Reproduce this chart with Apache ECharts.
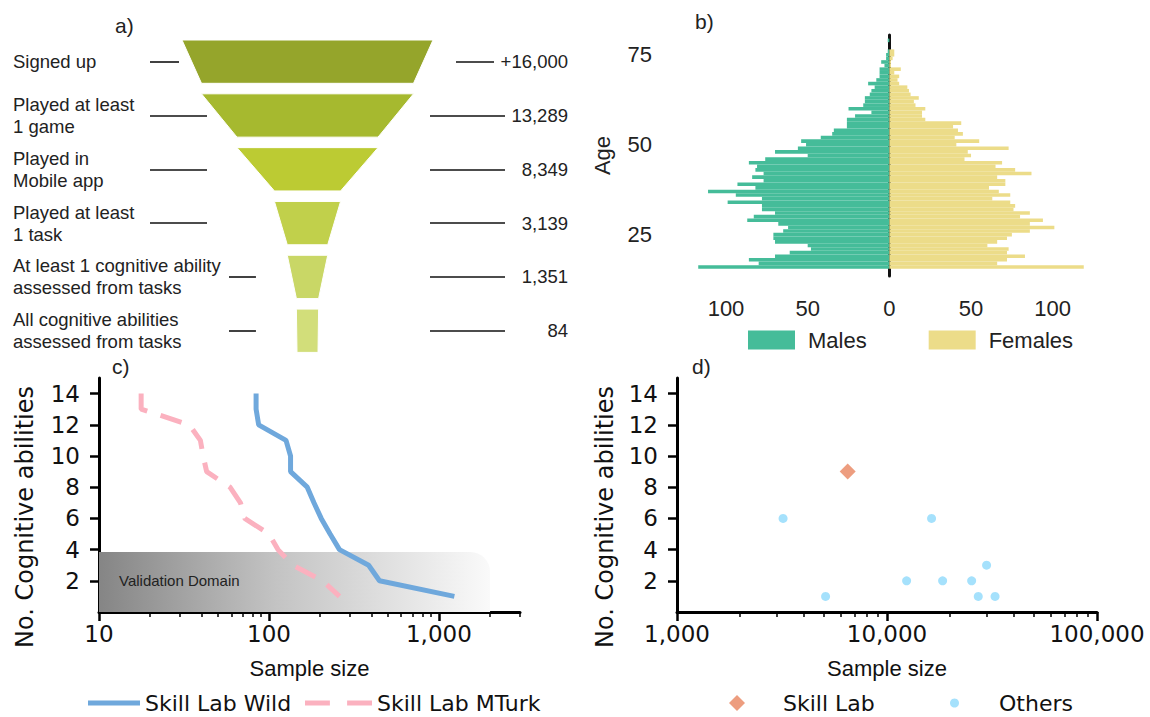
<!DOCTYPE html>
<html>
<head>
<meta charset="utf-8">
<script src="https://cdn.jsdelivr.net/npm/echarts@6/dist/echarts.min.js"></script>
<style>
  html, body { margin: 0; background: #fff; }
  #main { width: 1150px; height: 717px; }
</style>
</head>
<body>
<div id="main"></div>
<script>
// a) participation funnel
const stages = [
  'Signed up',
  'Played at least\n1 game',
  'Played in\nMobile app',
  'Played at least\n1 task',
  'At least 1 cognitive ability\nassessed from tasks',
  'All cognitive abilities\nassessed from tasks'
]
const stageCounts = [16000, 13289, 8349, 3139, 1351, 84]

// b) age pyramid, ages 14..80
const ages = Array.from({ length: 67 }, (_, i) => String(14 + i))
const males = [0, 0, 117, 80, 86, 70, 61, 48, 50, 70, 71, 71, 65, 62, 68, 87, 83, 70, 78, 78,
  99, 78, 94, 111, 82, 93, 77, 84, 77, 82, 81, 86, 76, 50, 70, 56, 51, 54, 42, 35,
  34, 26, 26, 26, 21, 11, 25, 16, 15, 15, 12, 11, 9, 13, 8, 6, 6, 6, 3, 5,
  2, 2, 1, 0, 0, 1, 0]
const females = [0, 0, 119, 66, 72, 83, 72, 73, 60, 66, 72, 75, 86, 101, 86, 94, 80, 86, 76, 77,
  74, 63, 74, 67, 61, 71, 71, 66, 87, 77, 65, 69, 46, 50, 48, 73, 41, 55, 40, 45,
  42, 39, 44, 22, 20, 20, 22, 16, 15, 18, 13, 12, 11, 6, 5, 6, 3, 7, 1, 1,
  2, 3, 3, 0, 0, 0, 0]

// c) sample size needed per number of abilities
const wildSizes = [[84, 14], [84, 13], [87, 12], [126, 11], [134, 10], [134, 9], [168, 8],
  [184, 7], [203, 6], [229, 5], [260, 4], [386, 3], [447, 2], [1233, 1]]
const mturkSizes = [[17.7, 14], [17.7, 13], [34, 12], [39.5, 11], [41, 10], [43, 9], [59, 8],
  [68, 7], [72, 6], [100, 5], [113, 4], [138, 3], [207, 2], [260, 1]]
const validationDomain = [10, 0, 2000, 3.85]

// d) other studies
const skillLabStudy = [[6500, 9]]
const otherStudies = [[3200, 6], [5100, 1], [12400, 2], [16300, 6], [18400, 2],
  [25300, 2], [29800, 3], [27200, 1], [32700, 1]]

const abilityTicks = [2, 4, 6, 8, 10, 12, 14]
const minorC = [20, 30, 40, 50, 60, 70, 80, 90, 200, 300, 400, 500, 600, 700, 800, 900, 2000, 3000]
const minorD = [2000, 3000, 4000, 5000, 6000, 7000, 8000, 9000,
  20000, 30000, 40000, 50000, 60000, 70000, 80000, 90000]

const funnelColors = ['#95a52b', '#a6b92f', '#bccb33', '#c1d04b', '#c9d766', '#d2de7a']
const sans = '"Liberation Sans", Arial, sans-serif'
const dejavu = '"DejaVu Sans", sans-serif'

const chart = echarts.init(document.getElementById('main'), null, { renderer: 'svg' })

// 漏斗两侧的引线 (axis ticks used as leader lines)
const leaderAxis = (position, offset, len, shown, label) => ({
  type: 'category', gridIndex: 0, inverse: true, position, offset,
  data: stages,
  axisLine: { show: false, onZero: false },
  axisTick: {
    show: true, alignWithLabel: true, length: len,
    interval: (i) => shown.includes(i),
    lineStyle: { color: '#111', width: 1.6 }
  },
  axisLabel: label || { show: false }
})

// log axis pair: major + minor ticks
const logAxes = (gridIndex, min, max, major, minor, name) => [
  {
    type: 'log', gridIndex, min, max, logBase: 10,
    name, nameLocation: 'middle', nameGap: 45,
    nameTextStyle: { fontSize: 22, fontFamily: sans, color: '#111' },
    axisLine: { lineStyle: { color: '#000', width: 3 } },
    axisTick: { customValues: major, length: 9, lineStyle: { color: '#000', width: 2.5 } },
    axisLabel: {
      customValues: major, fontSize: 23, fontFamily: dejavu, color: '#111', margin: 10,
      formatter: (v) => Number(v).toLocaleString('en-US')
    },
    splitLine: { show: false }
  },
  {
    type: 'log', gridIndex, min, max, logBase: 10, position: 'bottom',
    axisLine: { show: false },
    axisTick: { customValues: minor, length: 5, lineStyle: { color: '#000', width: 1.5 } },
    axisLabel: { show: false },
    splitLine: { show: false }
  }
]

const abilityAxis = (gridIndex, nameGap) => ({
  type: 'value', gridIndex, min: 0, max: 15,
  name: 'No. Cognitive abilities', nameLocation: 'middle', nameGap,
  nameTextStyle: { fontSize: 24, fontFamily: dejavu, color: '#111', padding: [0, 44, 0, 0] },
  axisLine: { show: true, lineStyle: { color: '#000', width: 3 } },
  axisTick: { show: true, customValues: abilityTicks, length: 9, lineStyle: { color: '#000', width: 2.5 } },
  axisLabel: { customValues: abilityTicks, fontSize: 23, fontFamily: dejavu, color: '#111', margin: 19 },
  splitLine: { show: false }
})

const domainFill = new echarts.graphic.LinearGradient(0, 0, 1, 0, [
  { offset: 0, color: '#858585' },
  { offset: 0.45, color: '#c3c3c3' },
  { offset: 1, color: '#fafafa' }
])

const panelTitle = (text, left, top) => ({
  text, left, top,
  textStyle: { fontSize: 21, fontWeight: 'normal', fontFamily: sans, color: '#222' }
})

const legendText = { fontSize: 22, fontFamily: dejavu, color: '#111' }

const option = {
  animation: false,
  backgroundColor: '#fff',
  textStyle: { fontFamily: sans },
  title: [
    panelTitle('a)', 110, 10),
    panelTitle('b)', 690, 6),
    panelTitle('c)', 107, 351),
    panelTitle('d)', 687, 351)
  ],
  grid: [
    { left: 256, top: 35, width: 174, height: 322.4 },
    { left: 677, top: 35, width: 428, height: 241 },
    { left: 99, top: 378, width: 421, height: 234 },
    { left: 677, top: 378, width: 420, height: 234 }
  ],
  legend: [
    {
      data: ['Males', 'Females'], left: 743, top: 324, icon: 'rect',
      itemWidth: 47, itemHeight: 19, itemGap: 62,
      textStyle: { fontSize: 22, fontFamily: sans, color: '#222', padding: [0, 0, 0, 8] }
    },
    {
      data: [{ name: 'Skill Lab Wild', icon: 'path://M0,0h52v5h-52z' }],
      left: 83, top: 687, itemWidth: 52, itemHeight: 5,
      textStyle: legendText
    },
    {
      data: [{ name: 'Skill Lab MTurk', icon: 'path://M0,0h26v5h-26zM44,0h26v5h-26z' }],
      left: 300, top: 687, itemWidth: 67, itemHeight: 5,
      textStyle: legendText
    },
    {
      data: [{ name: 'Skill Lab', icon: 'diamond' }],
      left: 724, top: 687, itemWidth: 16, itemHeight: 16,
      textStyle: Object.assign({ padding: [0, 0, 0, 33] }, legendText)
    },
    {
      data: [{ name: 'Others', icon: 'circle' }],
      left: 945, top: 687, itemWidth: 9, itemHeight: 9,
      textStyle: Object.assign({ padding: [0, 0, 0, 35] }, legendText)
    }
  ],
  xAxis: [
    { type: 'value', gridIndex: 0, show: false, min: 0, max: 1 },
    {
      type: 'value', gridIndex: 1, min: -130, max: 132,
      axisLine: { lineStyle: { color: '#111', width: 3 } },
      axisTick: { customValues: [-100, -50, 0, 50, 100], length: 12, lineStyle: { color: '#111', width: 2.5 } },
      axisLabel: {
        customValues: [-100, -50, 0, 50, 100], fontSize: 22, color: '#222', margin: 21,
        formatter: (v) => String(Math.abs(v))
      },
      splitLine: { show: false }
    },
    ...logAxes(2, 10, 3000, [10, 100, 1000], minorC, 'Sample size'),
    ...logAxes(3, 1000, 100000, [1000, 10000, 100000], minorD, 'Sample size')
  ],
  yAxis: [
    leaderAxis('left', 49, 57, [1, 2, 3], {
      show: true, align: 'left', margin: 194, fontSize: 18.5, lineHeight: 22, color: '#222'
    }),
    leaderAxis('left', 77, 29, [0]),
    leaderAxis('left', 0, 27, [4, 5]),
    leaderAxis('right', 0, 75, [1, 2, 3, 4, 5], {
      show: true, align: 'right', margin: 138, fontSize: 18.5, color: '#222',
      formatter: (v, i) => (i === 0 ? '+' : '') + stageCounts[i].toLocaleString('en-US')
    }),
    leaderAxis('right', 26, 38, [0]),
    {
      type: 'category', gridIndex: 1, data: ages,
      name: 'Age', nameLocation: 'middle', nameGap: 64,
      nameTextStyle: { fontSize: 22, color: '#222' },
      axisLine: { lineStyle: { color: '#111', width: 3 } },
      axisTick: {
        alignWithLabel: true, length: 12, lineStyle: { color: '#111', width: 2.5 },
        interval: (i, v) => Number(v) % 25 === 0
      },
      axisLabel: {
        fontSize: 22, color: '#222', margin: 25,
        interval: (i, v) => Number(v) % 25 === 0
      }
    },
    abilityAxis(2, 62),
    abilityAxis(3, 60)
  ],
  series: [
    {
      type: 'funnel', left: 182, top: 40, width: 251, height: 312.4,
      min: 0, max: 16000, minSize: 21, maxSize: 251, sort: 'none', gap: 10.5,
      label: { show: false }, labelLine: { show: false },
      emphasis: { disabled: true },
      data: stages.map((name, i) => ({
        name, value: stageCounts[i], itemStyle: { color: funnelColors[i] }
      }))
    },
    {
      name: 'Males', type: 'bar', xAxisIndex: 1, yAxisIndex: 5,
      data: males.map((v) => -v), barWidth: '100%', barGap: '-100%',
      itemStyle: { color: '#45bc99' }
    },
    {
      name: 'Females', type: 'bar', xAxisIndex: 1, yAxisIndex: 5,
      data: females, barWidth: '100%', barGap: '-100%',
      itemStyle: { color: '#ecdc89' }
    },
    {
      type: 'custom', xAxisIndex: 2, yAxisIndex: 6, z: 1,
      encode: { x: [0, 2], y: [1, 3] },
      data: [validationDomain],
      renderItem: (params, api) => {
        const p0 = api.coord([api.value(0), api.value(3)])
        const p1 = api.coord([api.value(2), api.value(1)])
        const mid = api.coord([api.value(0), 2])
        return {
          type: 'group',
          children: [
            {
              type: 'rect',
              shape: { x: p0[0], y: p0[1], width: p1[0] - p0[0], height: p1[1] - p0[1], r: [0, 20, 0, 0] },
              style: { fill: domainFill }
            },
            {
              type: 'text',
              style: {
                text: 'Validation Domain', x: p0[0] + 20, y: mid[1],
                verticalAlign: 'middle', fill: '#222', fontSize: 15, fontFamily: sans
              }
            }
          ]
        }
      }
    },
    {
      name: 'Skill Lab Wild', type: 'line', xAxisIndex: 2, yAxisIndex: 6, z: 3,
      data: wildSizes, symbol: 'none', color: '#6fa8dc',
      lineStyle: { width: 5, color: '#6fa8dc' }
    },
    {
      name: 'Skill Lab MTurk', type: 'line', xAxisIndex: 2, yAxisIndex: 6, z: 3,
      data: mturkSizes, symbol: 'none', color: '#fbb1bf',
      lineStyle: { width: 5, color: '#fbb1bf', type: [22, 14] }
    },
    {
      name: 'Skill Lab', type: 'scatter', xAxisIndex: 4, yAxisIndex: 7,
      data: skillLabStudy, symbol: 'diamond', symbolSize: 16,
      itemStyle: { color: '#e9855f' }
    },
    {
      name: 'Others', type: 'scatter', xAxisIndex: 4, yAxisIndex: 7,
      data: otherStudies, symbol: 'circle', symbolSize: 9,
      itemStyle: { color: '#8fd9fb' }
    }
  ]
}

chart.setOption(option)
window.addEventListener('resize', () => chart.resize())
</script>
</body>
</html>
